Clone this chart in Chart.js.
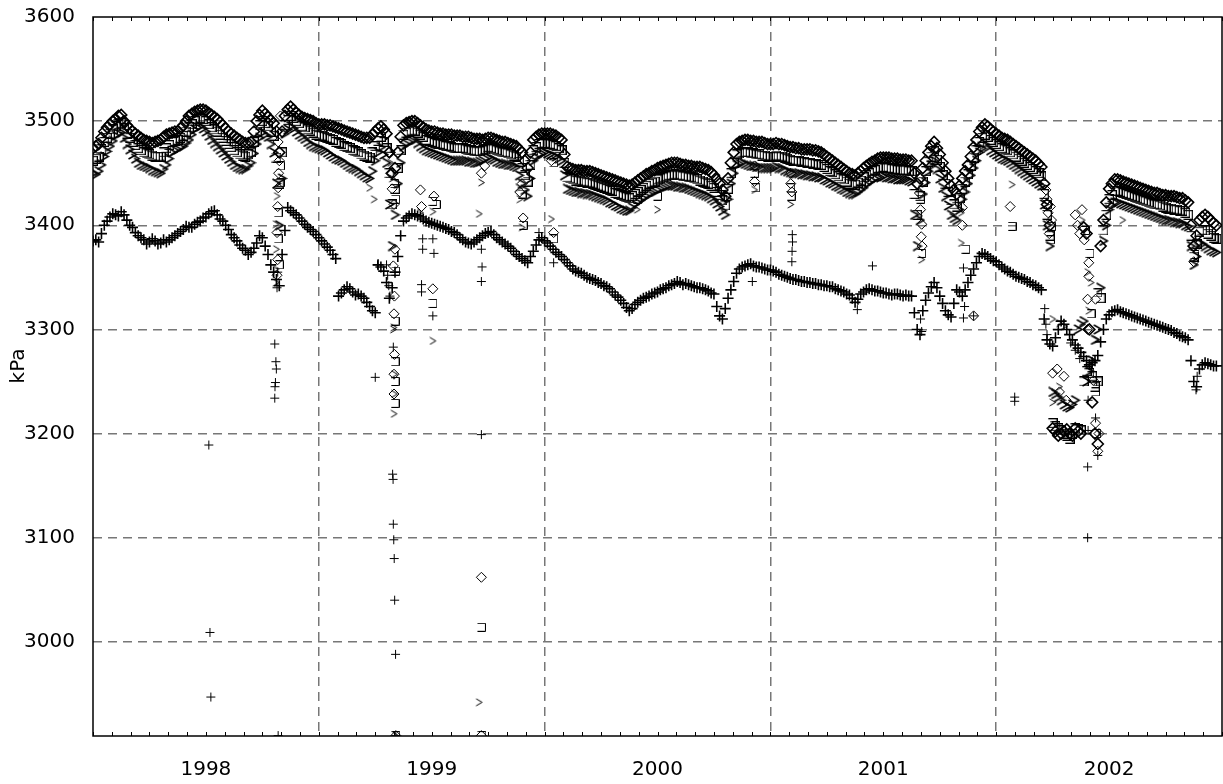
<!DOCTYPE html>
<html>
<head>
<meta charset="utf-8">
<script src="https://cdn.jsdelivr.net/npm/chart.js@4.4.1/dist/chart.umd.min.js"></script>
<style>
  html, body { margin: 0; padding: 0; background: #fff; }
  #wrap { width: 1223px; height: 784px; position: relative; }
</style>
</head>
<body>
<div id="wrap"><canvas id="chart"></canvas></div>
<script>
// Pressure readings (kPa). "A" arrays are read at 1998 + i/40, "B" arrays half a step later.
const START_YEAR = 1998;
const STEP = 1 / 40;

// "+" series (lower band)
const plusA = [
  3385,3384,3400,3408,3410,3413,3405,3398,3390,3386,
  3384,3385,3383,3384,3388,3392,3396,3398,3401,3404,
  3408,3413,3410,3404,3396,3388,3381,3376,3374,3383,
  3388,3372,3355,3342,3395,3414,3410,3404,3398,3394,
  3388,3382,3376,3368,3335,3341,3336,3334,3330,3322,
  3316,3360,3345,3340,3370,3404,3409,3410,3408,3404,
  3402,3400,3398,3396,3393,3388,3384,3382,3386,3390,
  3393,3391,3386,3382,3378,3372,3368,3364,3375,3386,
  3385,3380,3374,3370,3364,3358,3355,3352,3349,3347,
  3344,3341,3336,3331,3325,3318,3324,3328,3331,3334,
  3336,3339,3342,3344,3345,3344,3342,3340,3339,3337,
  3334,3313,3320,3338,3354,3360,3362,3361,3360,3358,
  3357,3355,3352,3350,3348,3347,3346,3345,3344,3343,
  3342,3341,3338,3336,3333,3326,3334,3338,3338,3337,
  3335,3334,3334,3333,3333,3332,3300,3318,3335,3345,
  3332,3318,3312,3338,3332,3345,3358,3370,3372,3368,
  3365,3360,3356,3353,3350,3348,3345,3342,3338,3290,
  3284,3300,3305,3295,3285,3278,3270,3268,3275,3300,
  3314,3318,3317,3315,3313,3311,3309,3307,3305,3303,
  3301,3299,3296,3293,3290,3250,3262,3268,3266,3265
];
const plusB = [
  3386,3392,3404,3411,3409,3410,3400,3393,3388,3382,
  3387,3382,3386,3386,3390,3394,3399,3398,3403,3407,
  3411,3414,3406,3400,3391,3385,3378,3372,3378,3390,
  3380,3362,3348,3372,3417,3412,3407,3401,3396,3391,
  3385,3379,3372,3332,3338,3339,3333,3332,3326,3318,
  3362,3356,3330,3355,3390,3407,3411,3409,3406,3403,
  3401,3399,3397,3394,3391,3386,3383,3384,3388,3392,
  3394,3388,3384,3380,3375,3370,3366,3370,3381,3388,
  3383,3377,3372,3367,3361,3356,3354,3350,3348,3345,
  3342,3339,3333,3328,3321,3320,3326,3330,3332,3335,
  3338,3340,3343,3346,3343,3343,3341,3340,3338,3335,
  3322,3310,3330,3346,3358,3361,3363,3360,3359,3357,
  3356,3353,3351,3349,3348,3346,3345,3344,3343,3342,
  3341,3339,3337,3334,3330,3329,3336,3339,3337,3336,
  3335,3333,3334,3332,3332,3316,3295,3328,3341,3340,
  3325,3314,3325,3336,3338,3352,3364,3373,3370,3366,
  3362,3358,3355,3351,3349,3346,3343,3340,3310,3286,
  3292,3308,3300,3290,3282,3274,3266,3270,3288,3310,
  3317,3319,3316,3314,3312,3310,3308,3306,3304,3302,
  3300,3297,3294,3292,3270,3245,3266,3267,3265
];

// diamond series (top of upper band)
const diamondA = [
  3474,3478,3490,3497,3502,3506,3496,3490,3486,3482,
  3480,3480,3482,3487,3489,3490,3496,3505,3509,3511,
  3510,3506,3502,3496,3490,3486,3482,3479,3480,3500,
  3510,3504,3498,3470,3505,3514,3508,3504,3502,3500,
  3497,3497,3496,3494,3492,3490,3488,3486,3484,3484,
  3490,3495,3488,3450,3470,3496,3499,3500,3496,3492,
  3490,3489,3488,3487,3486,3486,3485,3484,3483,3482,
  3484,3483,3481,3480,3478,3476,3470,3455,3482,3487,
  3488,3488,3486,3482,3456,3454,3453,3452,3452,3450,
  3448,3446,3444,3442,3440,3438,3441,3445,3449,3452,
  3455,3457,3459,3460,3459,3458,3457,3456,3455,3453,
  3448,3440,3428,3460,3478,3481,3482,3481,3480,3479,
  3478,3479,3478,3476,3475,3474,3473,3473,3472,3470,
  3466,3462,3458,3454,3450,3448,3452,3457,3461,3464,
  3465,3465,3464,3463,3463,3462,3440,3455,3470,3480,
  3468,3452,3438,3430,3445,3458,3475,3490,3497,3492,
  3488,3484,3482,3478,3474,3470,3466,3462,3456,3420,
  3205,3198,3202,3200,3205,3200,3392,3230,3190,3405,
  3435,3444,3443,3441,3439,3437,3435,3433,3431,3430,
  3429,3428,3427,3426,3422,3380,3405,3410,3405,3400
];
const diamondB = [
  3476,3484,3494,3500,3505,3500,3493,3488,3484,3481,
  3479,3481,3485,3488,3490,3493,3500,3507,3510,3511,
  3508,3504,3499,3493,3488,3484,3480,3479,3490,3506,
  3507,3501,3490,3490,3511,3511,3506,3503,3501,3498,
  3497,3496,3495,3493,3491,3489,3487,3485,3484,3487,
  3493,3492,3470,3455,3485,3498,3500,3498,3494,3491,
  3490,3488,3487,3487,3486,3485,3485,3483,3483,3483,
  3484,3482,3480,3479,3477,3473,3462,3470,3485,3488,
  3488,3487,3484,3468,3455,3453,3453,3452,3451,3449,
  3447,3445,3443,3441,3439,3439,3443,3447,3450,3453,
  3456,3458,3460,3460,3458,3457,3456,3456,3454,3451,
  3444,3434,3445,3470,3480,3482,3481,3480,3480,3478,
  3478,3478,3477,3475,3474,3473,3473,3472,3471,3468,
  3464,3460,3456,3452,3449,3450,3455,3459,3462,3465,
  3465,3464,3464,3463,3462,3450,3445,3462,3476,3474,
  3460,3445,3434,3438,3452,3466,3482,3494,3495,3490,
  3486,3483,3480,3476,3472,3468,3464,3459,3440,3400,
  3202,3200,3204,3198,3202,3398,3300,3200,3380,3422,
  3440,3444,3442,3440,3438,3436,3434,3432,3431,3429,
  3428,3428,3426,3424,3400,3390,3408,3408,3402
];

// open-square series (middle of upper band)
const squareA = [
  3462,3466,3480,3488,3495,3498,3488,3480,3474,3470,
  3468,3466,3466,3474,3480,3482,3486,3494,3500,3503,
  3500,3494,3490,3484,3478,3472,3468,3466,3470,3490,
  3500,3495,3486,3440,3496,3505,3500,3495,3492,3489,
  3486,3485,3483,3480,3478,3475,3472,3470,3467,3465,
  3476,3485,3474,3420,3455,3487,3490,3491,3487,3482,
  3480,3478,3477,3476,3474,3474,3473,3472,3471,3472,
  3475,3473,3471,3470,3468,3466,3455,3442,3472,3478,
  3479,3478,3476,3472,3446,3444,3443,3442,3441,3439,
  3437,3435,3433,3430,3428,3426,3430,3434,3438,3441,
  3444,3446,3448,3449,3448,3447,3446,3444,3442,3440,
  3436,3429,3419,3450,3468,3470,3470,3469,3468,3467,
  3466,3467,3466,3464,3462,3462,3461,3460,3459,3458,
  3454,3451,3447,3444,3440,3439,3443,3448,3452,3455,
  3456,3455,3454,3453,3453,3452,3410,3442,3461,3471,
  3456,3440,3424,3418,3435,3449,3465,3480,3487,3482,
  3478,3474,3472,3468,3464,3460,3456,3452,3447,3410,
  3210,3205,3200,3195,3205,3203,3260,3255,3250,3395,
  3425,3433,3432,3430,3428,3426,3424,3422,3420,3419,
  3417,3416,3415,3414,3410,3370,3394,3395,3390,3387
];
const squareB = [
  3464,3473,3484,3492,3497,3493,3484,3477,3472,3469,
  3467,3466,3470,3477,3481,3484,3490,3497,3502,3502,
  3497,3492,3487,3481,3475,3470,3467,3468,3480,3496,
  3498,3490,3465,3470,3501,3503,3498,3494,3491,3487,
  3486,3484,3482,3479,3476,3474,3471,3468,3466,3470,
  3481,3480,3450,3435,3472,3489,3491,3489,3485,3481,
  3479,3478,3476,3475,3474,3474,3472,3471,3471,3473,
  3474,3472,3470,3469,3467,3461,3448,3458,3475,3479,
  3478,3477,3474,3460,3445,3443,3442,3441,3440,3438,
  3436,3434,3431,3429,3427,3428,3432,3436,3440,3442,
  3445,3447,3448,3448,3447,3446,3445,3443,3441,3438,
  3432,3424,3435,3460,3469,3470,3469,3468,3467,3466,
  3466,3466,3465,3463,3462,3461,3460,3459,3458,3456,
  3452,3449,3445,3442,3439,3441,3446,3450,3453,3455,
  3455,3454,3453,3453,3452,3430,3428,3452,3466,3463,
  3448,3432,3420,3426,3442,3457,3472,3484,3485,3480,
  3476,3473,3470,3466,3462,3458,3454,3450,3430,3390,
  3207,3203,3198,3200,3204,3250,3258,3245,3330,3410,
  3429,3433,3431,3429,3427,3425,3423,3421,3420,3418,
  3416,3415,3414,3412,3390,3382,3395,3392,3388
];

// chevron series (bottom of upper band)
const chevronA = [
  3450,3452,3466,3476,3486,3489,3478,3468,3460,3457,
  3455,3452,3450,3458,3470,3473,3476,3482,3492,3495,
  3490,3482,3476,3470,3464,3458,3455,3454,3460,3478,
  3489,3485,3470,3400,3488,3495,3490,3485,3480,3476,
  3474,3472,3468,3464,3462,3458,3455,3452,3448,3445,
  3462,3475,3460,3380,3440,3476,3480,3482,3476,3472,
  3470,3468,3466,3464,3462,3462,3462,3461,3460,3462,
  3465,3463,3460,3459,3458,3456,3440,3428,3462,3468,
  3470,3468,3466,3462,3435,3433,3432,3431,3430,3428,
  3426,3424,3421,3418,3415,3414,3420,3424,3428,3431,
  3434,3436,3438,3438,3437,3436,3434,3432,3430,3428,
  3424,3418,3410,3440,3458,3460,3458,3457,3456,3455,
  3455,3456,3455,3452,3450,3450,3449,3448,3447,3446,
  3443,3440,3437,3434,3431,3430,3434,3439,3443,3446,
  3447,3446,3445,3444,3444,3442,3380,3430,3452,3462,
  3445,3428,3410,3405,3425,3440,3455,3470,3478,3472,
  3468,3464,3462,3458,3454,3450,3446,3442,3438,3400,
  3240,3235,3228,3225,3232,3305,3250,3270,3300,3385,
  3415,3422,3421,3419,3417,3415,3413,3411,3409,3407,
  3405,3404,3403,3402,3399,3362,3383,3380,3376,3374
];
const chevronB = [
  3449,3458,3471,3481,3488,3484,3473,3464,3458,3456,
  3453,3451,3454,3464,3472,3475,3479,3487,3494,3493,
  3486,3479,3473,3467,3461,3456,3454,3457,3469,3484,
  3487,3478,3440,3445,3492,3493,3487,3483,3478,3475,
  3473,3470,3466,3463,3460,3456,3454,3450,3446,3452,
  3470,3468,3420,3410,3460,3478,3481,3479,3474,3471,
  3469,3467,3465,3463,3462,3462,3461,3460,3461,3464,
  3464,3461,3459,3458,3457,3448,3434,3445,3465,3469,
  3469,3467,3464,3448,3434,3432,3431,3430,3429,3427,
  3425,3422,3419,3416,3414,3417,3422,3426,3430,3432,
  3435,3437,3438,3437,3436,3435,3433,3431,3429,3426,
  3421,3414,3425,3450,3459,3459,3457,3456,3455,3455,
  3455,3455,3453,3451,3450,3449,3448,3447,3446,3444,
  3441,3438,3435,3432,3430,3432,3436,3441,3445,3446,
  3446,3445,3444,3444,3443,3410,3405,3441,3457,3454,
  3436,3419,3407,3415,3432,3448,3462,3474,3475,3470,
  3466,3463,3460,3456,3452,3448,3444,3440,3420,3380,
  3238,3232,3226,3228,3300,3308,3260,3290,3340,3400,
  3419,3422,3420,3418,3416,3414,3412,3410,3408,3406,
  3405,3403,3402,3400,3380,3370,3382,3378,3375
];

// isolated readings [year, kPa]
const plusExtra = [
  [1998.513,3189],[1998.518,3009],[1998.522,2947],
  [1998.805,3286],[1998.81,3269],[1998.812,3262],[1998.808,3249],[1998.806,3245],[1998.805,3234],[1998.82,2910],[1998.815,3340],[1998.818,3355],
  [1999.30,3362],[1999.305,3352],[1999.31,3342],[1999.315,3332],[1999.33,3283],[1999.327,3161],[1999.329,3156],[1999.33,3113],[1999.332,3098],[1999.334,3080],[1999.336,3040],[1999.34,2988],[1999.341,2910],
  [1999.25,3254],[1999.26,3362],
  [1999.46,3377],[1999.51,3373],[1999.455,3343],[1999.455,3336],[1999.505,3313],[1999.46,3387],[1999.505,3387],
  [1999.72,3377],[1999.723,3360],[1999.72,3346],[1999.72,3199],
  [1999.975,3393],[2000.04,3364],[2000.92,3346],
  [2001.097,3391],[2001.098,3384],[2001.096,3375],[2001.095,3365],
  [2001.452,3361],[2001.385,3319],[2001.665,3310],[2001.67,3298],
  [2001.855,3359],[2001.86,3322],[2001.855,3311],[2001.9,3313],
  [2002.082,3235],[2002.082,3231],
  [2002.215,3320],[2002.22,3305],[2002.225,3295],
  [2002.33,3287],[2002.35,3280],[2002.37,3272],
  [2002.407,3232],[2002.407,3203],[2002.405,3168],[2002.405,3100],[2002.45,3179],[2002.44,3215],[2002.445,3250],
  [2002.885,3242],[2002.89,3255]
];
const diamondExtra = [
  [1998.82,3480],[1998.825,3462],[1998.822,3450],[1998.82,3436],[1998.818,3418],[1998.815,3393],[1998.818,3367],[1998.815,3352],[1998.83,3505],
  [1999.31,3470],[1999.318,3450],[1999.325,3435],[1999.333,3420],[1999.337,3377],[1999.33,3361],[1999.335,3332],[1999.333,3315],[1999.335,3276],[1999.333,3257],[1999.333,3238],[1999.341,2910],
  [1999.455,3418],[1999.45,3434],[1999.505,3339],[1999.51,3428],
  [1999.72,3062],[1999.72,3450],[1999.735,3457],[1999.72,2910],
  [1999.89,3432],[1999.9,3440],[1999.905,3407],
  [2000.03,3462],[2000.04,3393],[2000.93,3457],[2000.93,3442],
  [2001.09,3450],[2001.09,3440],[2001.095,3432],
  [2001.66,3431],[2001.665,3415],[2001.67,3401],[2001.668,3389],[2001.672,3380],
  [2001.85,3417],[2001.85,3400],[2001.9,3313],
  [2002.062,3418],
  [2002.22,3434],[2002.225,3425],[2002.24,3418],[2002.23,3412],[2002.245,3405],[2002.235,3392],
  [2002.35,3410],[2002.36,3400],[2002.37,3392],[2002.38,3415],[2002.39,3386],
  [2002.25,3258],[2002.27,3262],[2002.3,3255],[2002.28,3240],[2002.31,3232],
  [2002.41,3364],[2002.41,3351],[2002.405,3329],[2002.44,3329],[2002.405,3300],[2002.43,3251],[2002.44,3210],[2002.45,3183],[2002.455,3200],
  [2002.87,3380],[2002.875,3365]
];
const squareExtra = [
  [1998.83,3457],[1998.83,3441],[1998.82,3412],[1998.82,3387],[1998.825,3362],
  [1999.335,3440],[1999.34,3425],[1999.34,3356],[1999.338,3308],[1999.338,3269],[1999.338,3250],[1999.338,3229],[1999.341,2910],
  [1999.505,3423],[1999.505,3325],[1999.52,3420],
  [1999.72,3014],[1999.722,2910],
  [1999.9,3430],[1999.905,3400],
  [2000.04,3387],[2000.04,3460],[2000.41,3425],[2000.5,3428],
  [2000.93,3450],[2000.935,3436],
  [2001.09,3436],[2001.092,3428],
  [2001.665,3425],[2001.67,3373],[2001.865,3377],
  [2002.07,3399],
  [2002.225,3420],[2002.245,3399],[2002.24,3386],[2002.395,3395],
  [2002.415,3373],[2002.45,3335],[2002.42,3315],[2002.44,3240],[2002.445,3200],
  [2002.88,3372]
];
const chevronExtra = [
  [1998.815,3428],[1998.81,3401],[1998.812,3377],[1998.81,3358],[1998.81,3345],
  [1999.225,3436],[1999.245,3425],
  [1999.318,3460],[1999.325,3445],[1999.33,3300],[1999.332,3302],[1999.335,3257],[1999.335,3238],[1999.333,3219],[1999.34,2910],
  [1999.505,3413],[1999.505,3289],[1999.45,3412],
  [1999.71,3411],[1999.71,2942],[1999.72,3441],
  [1999.885,3436],[1999.89,3425],[1999.9,3398],
  [2000.03,3406],[2000.41,3415],[2000.5,3415],[2000.93,3434],
  [2001.09,3420],[2001.66,3409],[2001.67,3367],
  [2001.845,3412],[2001.845,3383],
  [2002.07,3439],
  [2002.25,3310],[2002.28,3306],[2002.3,3303],[2002.25,3230],[2002.28,3245],
  [2002.38,3405],
  [2002.405,3355],[2002.41,3318],[2002.42,3345],[2002.43,3270],[2002.445,3290],
  [2002.56,3405]
];

// axes
const xLabels = ['1998', '1999', '2000', '2001', '2002'];
const xLabelAt = [1998.5, 1999.5, 2000.5, 2001.5, 2002.5];
const yearLines = [1999, 2000, 2001, 2002];
const monthTicks = Array.from({ length: 61 }, (_, k) => START_YEAR + k / 12);
const yTicks = [3000, 3100, 3200, 3300, 3400, 3500, 3600];
const Y_MIN = 2909.6, Y_MAX = 3600;

const FONT = '"DejaVu Sans", "Liberation Sans", sans-serif';
const near = (a, b) => Math.abs(a - b) < 1e-6;

const bandPts = (a, b) =>
  a.map((v, i) => ({ x: START_YEAR + i * STEP, y: v }))
    .concat(b.map((v, i) => ({ x: START_YEAR + (i + 0.5) * STEP, y: v })));
const extraPts = extra => extra.map(([x, y]) => ({ x, y }));

function glyph(size, lw, draw) {
  const c = document.createElement('canvas');
  c.width = size; c.height = size;
  const g = c.getContext('2d');
  g.strokeStyle = '#000'; g.lineWidth = lw;
  g.beginPath(); draw(g, size); g.stroke();
  return c;
}
const chevronShape = (g, s) => { g.moveTo(1.5, 1); g.lineTo(s - 1.5, s / 2); g.lineTo(1.5, s - 1); };
const bracketShape = (g, s) => { g.moveTo(0.5, 0.5); g.lineTo(s - 0.5, 0.5); g.lineTo(s - 0.5, s - 0.5); g.lineTo(0.5, s - 0.5); };
const chevron = glyph(9, 1, chevronShape), chevronBold = glyph(11, 1.6, chevronShape);
const bracket = glyph(9, 1, bracketShape), bracketBold = glyph(10, 1.6, bracketShape);

const marker = (style, radius, width) => ({
  pointStyle: style, pointRadius: radius, pointHoverRadius: radius,
  pointBorderColor: '#000', pointBackgroundColor: 'rgba(0,0,0,0)', pointBorderWidth: width,
  borderColor: '#000', backgroundColor: 'rgba(0,0,0,0)', showLine: false
});

// frame, inward month ticks and the axis title
const framePlugin = {
  id: 'frame',
  afterDraw(chart) {
    const { ctx, chartArea: a, scales: { x, y } } = chart;
    ctx.save();
    ctx.strokeStyle = '#000';
    ctx.lineWidth = 1;
    monthTicks.forEach(v => {
      const px = Math.round(x.getPixelForValue(v)) + 0.5;
      ctx.beginPath();
      ctx.moveTo(px, a.bottom); ctx.lineTo(px, a.bottom - 4);
      ctx.moveTo(px, a.top); ctx.lineTo(px, a.top + 4);
      ctx.stroke();
    });
    ctx.lineWidth = 1.5;
    ctx.strokeRect(a.left, a.top, a.right - a.left, a.bottom - a.top);
    ctx.fillStyle = '#000';
    ctx.font = '20px ' + FONT;
    ctx.textAlign = 'center';
    ctx.textBaseline = 'middle';
    ctx.translate(19, y.getPixelForValue(3265));
    ctx.rotate(-Math.PI / 2);
    ctx.fillText('kPa', 0, 0);
    ctx.restore();
  }
};

new Chart(document.getElementById('chart'), {
  type: 'scatter',
  data: {
    datasets: [
      // dense runs are drawn a touch heavier, like the overlapping daily marks
      { label: 'plus', data: bandPts(plusA, plusB), ...marker('cross', 5.5, 1.6) },
      { label: 'diamond', data: bandPts(diamondA, diamondB), ...marker('rectRot', 5.5, 1.6) },
      { label: 'square', data: bandPts(squareA, squareB), ...marker(bracketBold, 5, 1.6) },
      { label: 'chevron', data: bandPts(chevronA, chevronB), ...marker(chevronBold, 5, 1.6) },
      { label: 'plus extra', data: extraPts(plusExtra), ...marker('cross', 4.5, 1) },
      { label: 'diamond extra', data: extraPts(diamondExtra), ...marker('rectRot', 5, 1) },
      { label: 'square extra', data: extraPts(squareExtra), ...marker(bracket, 4.5, 1) },
      { label: 'chevron extra', data: extraPts(chevronExtra), ...marker(chevron, 4.5, 1) }
    ]
  },
  options: {
    responsive: true,
    maintainAspectRatio: false,
    animation: false,
    events: [],
    layout: { autoPadding: false, padding: { top: 17, right: 1, left: 0, bottom: 0 } },
    plugins: { legend: { display: false }, tooltip: { enabled: false } },
    scales: {
      x: {
        type: 'linear', min: 1998, max: 2003,
        afterBuildTicks: s => { s.ticks = monthTicks.map(v => ({ value: v })); },
        afterFit: s => { s.height = 48; s.paddingLeft = 0; s.paddingRight = 0; },
        grid: {
          drawTicks: false, lineWidth: 1.5,
          color: c => (c.tick && yearLines.some(v => near(v, c.tick.value))) ? '#777' : 'rgba(0,0,0,0)'
        },
        border: { display: false, dash: [9, 6] },
        ticks: {
          autoSkip: false, maxRotation: 0, minRotation: 0, padding: 22,
          color: '#000', font: { family: FONT, size: 20 },
          callback: v => { const k = xLabelAt.findIndex(p => near(p, v)); return k >= 0 ? xLabels[k] : ''; }
        }
      },
      y: {
        type: 'linear', min: Y_MIN, max: Y_MAX,
        afterBuildTicks: s => { s.ticks = yTicks.map(v => ({ value: v })); },
        afterFit: s => { s.width = 93; s.paddingTop = 0; s.paddingBottom = 0; },
        grid: {
          drawTicks: false, lineWidth: 1.5,
          color: c => (c.tick && c.tick.value < Y_MAX) ? '#777' : 'rgba(0,0,0,0)'
        },
        border: { display: false, dash: [9, 6] },
        ticks: { padding: 18, color: '#000', font: { family: FONT, size: 20 }, callback: v => String(v) }
      }
    }
  },
  plugins: [framePlugin]
});
</script>
</body>
</html>
